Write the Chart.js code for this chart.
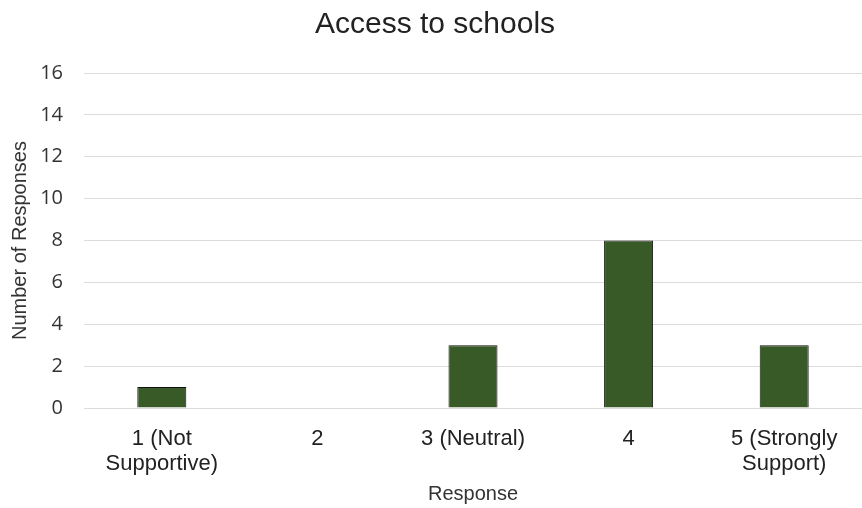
<!DOCTYPE html>
<html lang="en">
<head>
    <meta charset="UTF-8">
    <title>Access to schools</title>
    <style>
        body {
            margin: 0;
            background-color: #fff;
        }
        #chartContainer {
            width: 862px;
            height: 508px;
        }
    </style>
</head>
<body>

<div id="chartContainer">
    <canvas id="chart"></canvas>
</div>

<script src="https://cdn.jsdelivr.net/npm/chart.js"></script>
<script>
    const categories = [['1 (Not', 'Supportive)'], '2', '3 (Neutral)', '4', ['5 (Strongly', 'Support)']];
    const responses = [1, 0, 3, 8, 3];
    const yTicks = [0, 2, 4, 6, 8, 10, 12, 14, 16];

    const ctx = document.getElementById('chart').getContext('2d');
    new Chart(ctx, {
        type: 'bar',
        data: {
            labels: categories,
            datasets: [{
                label: 'Responses',
                data: responses,
                backgroundColor: '#385a27',
                borderColor: '#111',
                borderWidth: 1,
                barPercentage: 0.63,
                categoryPercentage: 0.5
            }]
        },
        options: {
            responsive: true,
            maintainAspectRatio: false,
            animation: false,
            layout: { padding: { top: 0, right: 0, left: 8, bottom: 2 } },
            plugins: {
                legend: { display: false },
                tooltip: { enabled: false },
                title: {
                    display: true,
                    text: 'Access to schools',
                    color: '#222',
                    font: { family: 'Liberation Sans', size: 30, weight: 'normal' },
                    padding: { top: 7, bottom: 30 }
                }
            },
            scales: {
                x: {
                    // keep the long first/last labels from squeezing the plot
                    afterFit: s => { s.paddingLeft = 0; s.paddingRight = 0; s.height = 98; },
                    grid: { display: false },
                    border: { display: false },
                    ticks: {
                        color: '#222',
                        font: { family: 'Liberation Sans', size: 22, lineHeight: 1.14 },
                        maxRotation: 0,
                        autoSkip: false,
                        padding: 10
                    },
                    title: {
                        display: true,
                        text: 'Response',
                        color: '#333',
                        font: { family: 'Liberation Sans', size: 20 },
                        padding: { top: 0, bottom: 0 }
                    }
                },
                y: {
                    min: 0,
                    max: 16,
                    afterBuildTicks: axis => { axis.ticks = yTicks.map(v => ({ value: v })); },
                    afterFit: s => { s.width = 76; },
                    grid: { color: '#dcdcdc', drawTicks: false },
                    border: { display: false },
                    ticks: {
                        color: '#333',
                        font: { family: 'Open Sans', size: 20 },
                        padding: 21
                    },
                    title: {
                        display: true,
                        text: 'Number of Responses',
                        color: '#333',
                        font: { family: 'Liberation Sans', size: 20 },
                        padding: { top: 0, bottom: 8 }
                    }
                }
            }
        }
    });
</script>
</body>
</html>
